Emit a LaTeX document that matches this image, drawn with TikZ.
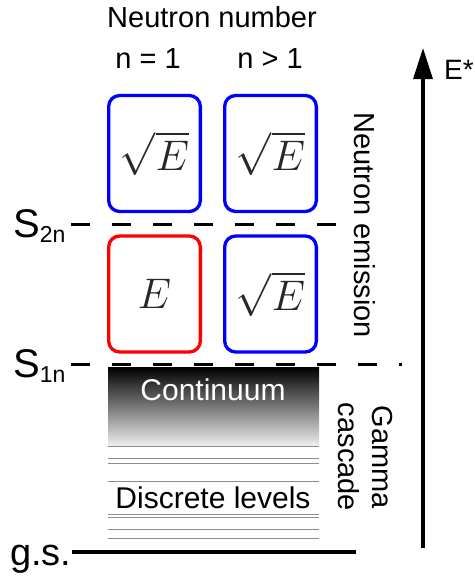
\documentclass[tikz,border=0pt]{standalone}
\usepackage{fontspec}
\setmainfont{Liberation Sans}
\usepackage{graphicx}
\usepackage{xcolor}
\usepackage{tikz}
\usetikzlibrary{arrows.meta}
\definecolor{nblue}{RGB}{0,0,255}
\definecolor{nred}{RGB}{255,0,0}
\definecolor{mathgray}{RGB}{40,40,40}
\newcommand{\bigmath}[1]{\scalebox{1.72}{\fontsize{24.88}{24.88}\selectfont$#1$}}

\begin{document}
\begin{tikzpicture}[x=1pt, y=-1pt,
  cell/.style={rectangle, rounded corners=11pt, draw=nblue, line width=3.3pt,
               minimum width=91.7pt, minimum height=116pt, inner sep=0pt,
               text=mathgray},
  rcell/.style={cell, draw=nred},
  txt/.style={inner sep=0pt, font=\fontsize{29}{34}\selectfont},
  big/.style={inner sep=0pt, font=\fontsize{40}{40}\selectfont, anchor=base west},
  level/.style={line width=3pt, dash pattern=on 19pt off 22pt},
  disc/.style={line width=1pt, color=black!45},
  earrow/.style={line width=3.3pt, -{Triangle[width=19pt, length=31pt]}}
]
\useasboundingbox (0,0) rectangle (474,578);

% column headers
\node[txt, anchor=base] (head) at (212,28) {Neutron number};
\node[txt, anchor=base] (n1) at (148,68) {n = 1};
\node[txt, anchor=base] (nm) at (270,68) {n > 1};

% spectrum shapes
\node[cell]  (a1) at (154.5,153.5) {\bigmath{\sqrt{E}}};
\node[cell]  (a2) at (270.5,153.5) {\bigmath{\sqrt{E}}};
\node[rcell] (b1) at (154.5,294)   {\bigmath{E}};
\node[cell]  (b2) at (270.5,294)   {\bigmath{\sqrt{E}}};

% separation energies
\node[big] (s2n) at (13,237) {S\raisebox{-5pt}{\fontsize{23}{23}\selectfont 2n}};
\node[big] (s1n) at (13,377) {S\raisebox{-5pt}{\fontsize{23}{23}\selectfont 1n}};
\node[big, font=\fontsize{38}{38}\selectfont] (gs) at (10,565) {g.s.};
\coordinate (s2nA) at (71,224);
\coordinate (s2nB) at (340,224);
\coordinate (s1nA) at (71,364);
\coordinate (s1nB) at (402,364);
\coordinate (gsA) at (72,552);
\coordinate (gsB) at (356,552);
\draw[level] (s2nA) -- (s2nB);
\draw[level] (s1nA) -- (s1nB);
\draw[line width=3.3pt] (gsA) -- (gsB);

% continuum and discrete levels
\node[inner sep=0pt, minimum width=211pt, minimum height=79pt,
      top color=black, middle color=black!55, bottom color=black!6]
      (cont) at (213.5,406.5) {};
\node[txt, anchor=base, text=white, font=\fontsize{30}{30}\selectfont]
      (contl) at (213,400) {Continuum};
\foreach \ly in {446,458,463,481,514,517,529,538}
  \draw[disc] (108,\ly) -- (319,\ly);
\node[txt, anchor=base, font=\fontsize{30}{30}\selectfont]
      (discl) at (213,508) {Discrete levels};

% decay channels
\node[txt, rotate=-90] (nem) at (365,225) {Neutron emission};
\node[txt, rotate=-90, align=center] (gam) at (365,457) {Gamma\\cascade};

% excitation energy axis
\coordinate (eb) at (423,548);
\coordinate (et) at (423,48);
\draw[earrow] (eb) -- (et);
\node[txt, anchor=base west, font=\fontsize{28}{28}\selectfont] (estar) at (444,79) {E*};
\end{tikzpicture}
\end{document}
